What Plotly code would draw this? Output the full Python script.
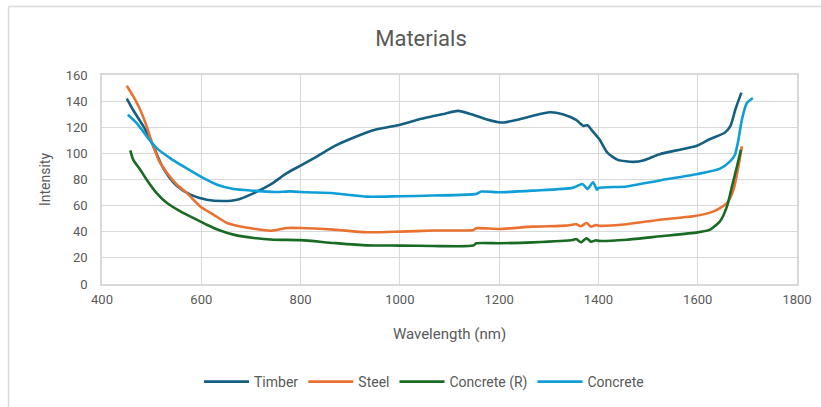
import plotly.graph_objects as go

# Reflectance spectra of four materials (wavelength in nm, intensity in counts)
timber_nm = [450, 463, 483, 504, 520, 535, 551, 578, 611, 645, 672, 706, 739, 773, 800,
             830, 869, 900, 933, 954, 996, 1038, 1091, 1117, 1144, 1175, 1207, 1239, 1270,
             1302, 1328, 1355, 1370, 1378, 1386, 1402, 1418, 1439, 1471, 1492, 1523, 1566,
             1597, 1624, 1655, 1666, 1676, 1688]
timber_val = [142, 133, 121, 105, 91, 82, 75, 68.4, 64.5, 63.5, 64.5, 69.6, 76, 85, 90.6,
              97, 105.7, 111, 116, 118.5, 121.5, 126, 130.4, 132.5, 130, 126, 123.6, 126, 129,
              131.5, 130, 125.6, 121, 121.5, 118, 110.8, 100.6, 95, 93.5, 94.8, 99.4, 103,
              105.7, 110.8, 116, 121, 133.8, 146.5]

steel_nm = [450, 463, 477, 490, 500, 514, 531, 551, 571, 598, 625, 652, 679, 706, 739, 773,
            800, 867, 933, 1000, 1067, 1148, 1154, 1201, 1268, 1335, 1355, 1365, 1376, 1385,
            1395, 1400, 1457, 1524, 1591, 1632, 1659, 1672, 1682, 1689]
steel_val = [151.8, 143.6, 133.4, 120.7, 109, 95, 85, 76, 69.6, 59.4, 53, 46.7, 44, 42.3, 40.8,
             42.9, 42.9, 41.6, 39.6, 40.1, 40.9, 41.4, 42.7, 42.1, 43.9, 44.7, 45.7, 44.2, 46.7,
             43.9, 45.2, 44.6, 45.8, 49.2, 51.8, 55.6, 62, 72, 90, 105.4]

concrete_r_nm = [457, 463, 477, 490, 510, 531, 558, 584, 611, 638, 665, 706, 746, 800, 867,
                 933, 1000, 1067, 1148, 1154, 1201, 1268, 1348, 1355, 1365, 1376, 1385, 1395,
                 1400, 1457, 1524, 1600, 1625, 1645, 1659, 1669, 1679, 1687]
concrete_r_val = [102.3, 95, 87.5, 79.8, 69.6, 62, 55.6, 50.5, 45.4, 41, 37.8, 35.2, 33.9, 33.6,
                  31.4, 29.6, 29.4, 29.1, 29.4, 31.2, 31.2, 31.9, 33.7, 34.5, 31.9, 35, 32.4,
                  33.5, 33, 33.9, 36.5, 39.5, 41.6, 48, 59.4, 74.7, 90, 102.8]

concrete_nm = [452, 470, 490, 510, 537, 564, 598, 632, 665, 706, 746, 780, 813, 867, 933,
               1000, 1067, 1154, 1164, 1201, 1268, 1348, 1368, 1378, 1389, 1397, 1400, 1457,
               1524, 1600, 1645, 1665, 1675, 1682, 1689, 1699, 1711]
concrete_val = [129.6, 123.2, 113, 104, 96.4, 90, 82.4, 76, 72.7, 71.4, 70.4, 70.9, 70.2, 69.5,
                66.9, 67.2, 67.7, 69, 70.8, 70.2, 71.5, 73.6, 76.6, 72.8, 77.9, 72.3, 73.5,
                74.7, 79.3, 84.2, 88.3, 93.9, 99, 110.5, 125.8, 138.5, 142.3]

x_ticks = [400, 600, 800, 1000, 1200, 1400, 1600, 1800]
y_ticks = [0, 20, 40, 60, 80, 100, 120, 140, 160]

series = [
    ("Timber", timber_nm, timber_val, "#156082"),
    ("Steel", steel_nm, steel_val, "#E97132"),
    ("Concrete (R)", concrete_r_nm, concrete_r_val, "#196B24"),
    ("Concrete", concrete_nm, concrete_val, "#0F9ED5"),
]

TEXT = "#595959"
GRID = "#D9D9D9"
FONT = "Roboto, sans-serif"

fig = go.Figure()
for name, xs, ys, color in series:
    fig.add_trace(go.Scatter(
        x=xs, y=ys, name=name, mode="lines",
        line=dict(color=color, width=2.6, shape="spline", smoothing=0.6),
    ))

fig.update_layout(
    width=821, height=407,
    margin=dict(l=102, r=24, t=75, b=123, autoexpand=False),
    paper_bgcolor="white", plot_bgcolor="white",
    font=dict(family=FONT, color=TEXT, size=13),
    title=dict(text="Materials", x=421 / 821, xanchor="center",
               y=1 - 38 / 407, yanchor="middle",
               font=dict(size=22, color=TEXT, family=FONT)),
    showlegend=True,
    legend=dict(orientation="h", x=(424 - 102) / (797 - 102), xanchor="center",
                y=(284 - 382) / (284 - 75), yanchor="middle",
                font=dict(size=14, color=TEXT, family=FONT), itemwidth=45,
                tracegroupgap=0),
    xaxis=dict(range=[400, 1800], tickvals=x_ticks, showgrid=True, gridcolor=GRID,
               gridwidth=1, showline=True, linecolor=GRID, linewidth=1.5, mirror=True,
               zeroline=False, ticks="", ticklabelstandoff=3, automargin=False,
               tickfont=dict(size=13, color=TEXT),
               title=dict(text="Wavelength (nm)", font=dict(size=15, color=TEXT),
                          standoff=22)),
    yaxis=dict(range=[0, 160], tickvals=y_ticks, showgrid=True, gridcolor=GRID,
               gridwidth=1, showline=True, linecolor=GRID, linewidth=1.5, mirror=True,
               zeroline=False, ticks="", ticklabelstandoff=10, automargin=False,
               tickfont=dict(size=13, color=TEXT),
               title=dict(text="Intensity", font=dict(size=14, color=TEXT), standoff=12)),
)

# Chart-area frame along the top and left edges
pw, ph = 797 - 102, 284 - 75
top_y = 1 + (75 - 6.5) / ph
left_x = (8.5 - 102) / pw
fig.add_shape(type="line", xref="paper", yref="paper", x0=left_x, x1=(830 - 102) / pw,
              y0=top_y, y1=top_y, line=dict(color=GRID, width=1.5))
fig.add_shape(type="line", xref="paper", yref="paper", x0=left_x, x1=left_x,
              y0=top_y, y1=(284 - 420) / ph, line=dict(color=GRID, width=1.5))

fig.write_html("out.html")
